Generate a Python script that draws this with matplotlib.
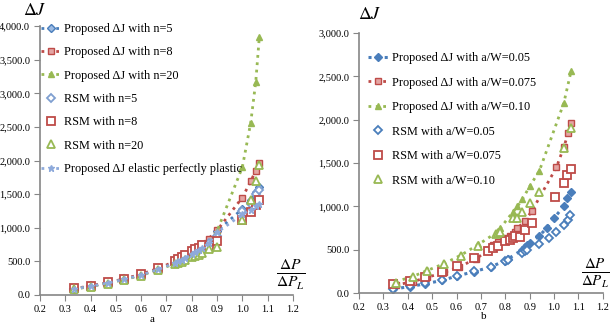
import numpy as np
import matplotlib
matplotlib.use("Agg")
import matplotlib.pyplot as plt
from matplotlib.ticker import FuncFormatter

plt.rcParams['font.family'] = ['Liberation Serif', 'DejaVu Serif']
plt.rcParams['mathtext.fontset'] = 'stix'

# ---- panel a data (x = dP/dP_L) ----
xa = [0.333, 0.4, 0.467, 0.533, 0.6, 0.667, 0.733, 0.747, 0.76, 0.773, 0.8, 0.813,
      0.827, 0.84, 0.867, 0.9, 1.0, 1.033, 1.053, 1.067]
prop_n5 = [90, 130, 180, 235, 300, 385, 480, 505, 530, 560, 620, 650, 685, 720, 790,
           950, 1280, 1420, 1530, 1600]
prop_n8 = [95, 135, 185, 240, 310, 395, 500, 530, 560, 590, 650, 690, 720, 760, 840,
           960, 1450, 1690, 1850, 1960]
prop_n20 = [85, 125, 175, 228, 292, 375, 465, 490, 515, 540, 590, 620, 650, 690, 760,
            950, 1900, 2560, 3170, 3830]
rsm_n5 = [88, 128, 178, 232, 298, 382, 475, 500, 525, 552, 610, 640, 670, 705, 770,
          880, 1250, 1360, 1500, 1560]
rsm_n8 = [100, 140, 188, 245, 312, 398, 505, 535, 565, 595, 655, 690, 700, 740, 720,
          800, 1110, 1240, 1340, 1410]
rsm_n20 = [85, 122, 170, 222, 285, 365, 455, 475, 495, 520, 560, 580, 600, 620, 680,
           720, 1110, 1420, 1690, 1940]
epp = [90, 130, 178, 233, 298, 380, 475, 500, 525, 550, 605, 635, 665, 700, 770,
       930, 1200, 1270, 1320, 1360]

# ---- panel b data ----
xb_blue = [0.34, 0.41, 0.47, 0.54, 0.6, 0.67, 0.74, 0.8, 0.81, 0.87, 0.88, 0.89, 0.9,
           0.94, 0.97, 1.0, 1.04, 1.055, 1.07]
prop_w05 = [45, 75, 105, 145, 195, 245, 300, 375, 390, 500, 530, 550, 575, 660, 750,
            865, 1000, 1095, 1160]
xb_blue_rsm = [0.34, 0.41, 0.47, 0.54, 0.6, 0.67, 0.74, 0.8, 0.81, 0.87, 0.88, 0.89,
               0.94, 0.98, 1.01, 1.04, 1.058, 1.067]
rsm_w05 = [50, 80, 110, 150, 200, 250, 305, 370, 385, 460, 480, 500, 560, 630, 707,
           785, 842, 900]
xb_red = [0.35, 0.42, 0.48, 0.55, 0.61, 0.68, 0.73, 0.75, 0.77, 0.8, 0.82, 0.84, 0.85,
          0.88, 0.91, 1.01, 1.04, 1.058, 1.07]
prop_w075 = [92, 130, 181, 238, 303, 392, 500, 554, 588, 640, 658, 700, 746, 830, 950,
             1450, 1681, 1842, 1965]
xb_red_rsm = [0.34, 0.41, 0.47, 0.54, 0.6, 0.67, 0.73, 0.75, 0.77, 0.8, 0.82, 0.83,
              0.84, 0.86, 0.88, 0.91, 1.006, 1.04, 1.055, 1.07]
rsm_w075 = [100, 140, 185, 245, 315, 400, 480, 520, 545, 600, 610, 630, 660, 643, 727,
            812, 1111, 1265, 1361, 1427]
xb_green = [0.35, 0.42, 0.48, 0.55, 0.62, 0.69, 0.76, 0.77, 0.78, 0.83, 0.85, 0.87,
            0.9, 0.94, 1.04, 1.07]
prop_w10 = [130, 190, 260, 340, 440, 560, 690, 720, 750, 930, 1000, 1080, 1230, 1410,
            2190, 2560]
xb_green_rsm = [0.35, 0.42, 0.48, 0.55, 0.62, 0.69, 0.76, 0.77, 0.78, 0.83, 0.85, 0.87,
                0.9, 0.94, 1.04, 1.07]
rsm_w10 = [120, 180, 250, 330, 430, 540, 680, 690, 700, 860, 870, 940, 1040, 1160,
           1670, 1900]

blue = '#4a7ebb'
red = '#be4b48'
green = '#98b954'
lblue = '#8eaadb'
axcol = '#868686'

fmt = FuncFormatter(lambda v, p: '{:,.1f}'.format(v))


def style_ax(ax, ymax, ystep):
    ax.set_xlim(0.2, 1.2)
    ax.set_ylim(0, ymax)
    ax.set_xticks(np.arange(0.2, 1.21, 0.1))
    ax.set_xticklabels(['%.1f' % v for v in np.arange(0.2, 1.21, 0.1)])
    ax.set_yticks(np.arange(0, ymax + 1, ystep))
    ax.yaxis.set_major_formatter(fmt)
    for s in ['top', 'right']:
        ax.spines[s].set_visible(False)
    for s in ['left', 'bottom']:
        ax.spines[s].set_color(axcol)
        ax.spines[s].set_linewidth(1.2)
    ax.tick_params(direction='out', length=4, color=axcol, labelsize=7.5, pad=3)


fig = plt.figure(figsize=(6.14, 3.26), dpi=100)
ax1 = fig.add_axes([0.0651, 0.0951, 0.412, 0.825])
ax2 = fig.add_axes([0.5847, 0.1012, 0.397, 0.7975])

ls = dict(linestyle=':', linewidth=2, markersize=5)
hs = dict(linestyle='none', markersize=5.5, markerfacecolor='white', markeredgewidth=1.3)
leg = dict(loc='upper left', frameon=False, fontsize=8.8,
           handlelength=1.6, handletextpad=0.3, borderaxespad=0)

# panel a
ax1.plot(xa, prop_n5, color=blue, marker='D', markersize=4, linestyle=':', linewidth=2,
         markerfacecolor='#9dbbe3', label='Proposed ΔJ with n=5')
ax1.plot(xa, prop_n8, color=red, marker='s', markerfacecolor='#e4a5a3',
         label='Proposed ΔJ with n=8', **ls)
ax1.plot(xa, prop_n20, color=green, marker='^', label='Proposed ΔJ with n=20', **ls)
ax1.plot(xa, rsm_n5, color='#9dbbe3', marker='D', label='RSM with n=5',
         **{**hs, 'markersize': 4, 'markeredgecolor': '#7f9fd0'})
ax1.plot(xa, rsm_n8, color=red, marker='s', label='RSM with n=8', **hs)
ax1.plot(xa, rsm_n20, color=green, marker='^', label='RSM with n=20', **hs)
ax1.plot(xa, epp, color=lblue, marker='*', label='Proposed ΔJ elastic perfectly plastic', **ls)
style_ax(ax1, 4000, 500)
ax1.legend(bbox_to_anchor=(-0.015, 1.03), labelspacing=0.93, **leg)

# panel b
ax2.plot(xb_blue, prop_w05, color=blue, marker='D', markersize=4, linestyle=':', linewidth=2.2,
         label='Proposed ΔJ with a/W=0.05')
ax2.plot(xb_red, prop_w075, color=red, marker='s', markerfacecolor='#e4a5a3',
         label='Proposed ΔJ with a/W=0.075', **ls)
ax2.plot(xb_green, prop_w10, color=green, marker='^', label='Proposed ΔJ with a/W=0.10', **ls)
ax2.plot(xb_blue_rsm, rsm_w05, color=blue, marker='D', label='RSM with a/W=0.05',
         **{**hs, 'markersize': 4})
ax2.plot(xb_red_rsm, rsm_w075, color=red, marker='s', label='RSM with a/W=0.075', **hs)
ax2.plot(xb_green_rsm, rsm_w10, color=green, marker='^', label='RSM with a/W=0.10', **hs)
style_ax(ax2, 3000, 500)
ax2.legend(bbox_to_anchor=(0.018, 0.945), labelspacing=1.02, **leg)

# axis annotations
fig.text(0.038, 0.968, r'$\Delta J$', fontsize=13, va='center')
fig.text(0.583, 0.955, r'$\Delta J$', fontsize=13, va='center')
fig.text(0.473, 0.155, r'$\frac{\Delta P}{\Delta P_L}$', fontsize=16, va='center', ha='center')
fig.text(0.970, 0.163, r'$\frac{\Delta P}{\Delta P_L}$', fontsize=15.5, va='center', ha='center')
fig.text(0.248, 0.012, 'a', fontsize=8, ha='center')
fig.text(0.788, 0.02, 'b', fontsize=8, ha='center')

fig.savefig('out.png', dpi=100)
